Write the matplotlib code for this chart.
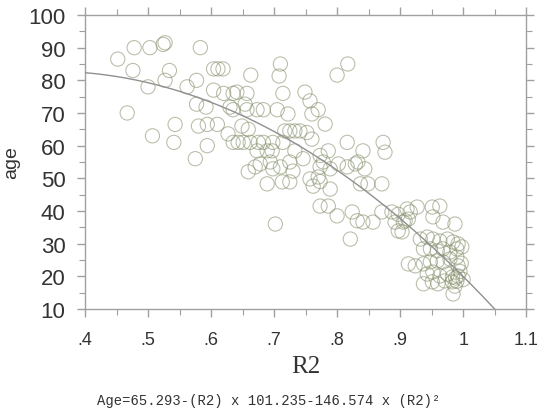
import numpy as np
import matplotlib
matplotlib.use("Agg")
import matplotlib.pyplot as plt
from matplotlib.ticker import MultipleLocator

# fit coefficients from the caption
c0 = 65.293
c1 = 101.235
c2 = -146.574

# R2 / age points
r2 = [0.452, 0.476, 0.467, 0.478, 0.503, 0.524, 0.527, 0.534, 0.527, 0.500,
      0.507, 0.543, 0.541, 0.562, 0.577, 0.583, 0.577, 0.592, 0.575, 0.580,
      0.594, 0.594, 0.610, 0.604, 0.611, 0.619, 0.604, 0.620, 0.635, 0.641,
      0.657, 0.663, 0.630, 0.635, 0.654, 0.657, 0.673, 0.683, 0.649, 0.659,
      0.627, 0.635, 0.643, 0.651, 0.662, 0.673, 0.683, 0.659, 0.670, 0.689,
      0.710, 0.708, 0.817, 0.800, 0.714, 0.749, 0.757, 0.770, 0.760, 0.705,
      0.722, 0.781, 0.717, 0.725, 0.733, 0.741, 0.752, 0.760, 0.698, 0.714,
      0.816, 0.873, 0.876, 0.841, 0.786, 0.773, 0.778, 0.773, 0.770, 0.773,
      0.789, 0.802, 0.816, 0.829, 0.833, 0.725, 0.710, 0.730, 0.698, 0.757,
      0.762, 0.789, 0.837, 0.849, 0.871, 0.844, 0.713, 0.725, 0.675, 0.689,
      0.697, 0.733, 0.678, 0.694, 0.746,
      0.702, 0.773, 0.786, 0.800, 0.824, 0.832, 0.841, 0.857, 0.821, 0.871,
      0.887, 0.892, 0.903, 0.916, 0.927, 0.951, 0.963, 0.952, 0.968, 0.987,
      0.897, 0.908, 0.897, 0.911, 0.913, 0.905,
      0.932, 0.943, 0.952, 0.963, 0.975, 0.984, 0.992,
      0.937, 0.948, 0.959, 0.968, 0.979, 0.990,
      0.913, 0.924, 0.937,
      0.948, 0.959, 0.968, 0.979, 0.990, 0.992,
      0.943, 0.952, 0.963, 0.975, 0.983, 0.992,
      0.937, 0.951, 0.960, 0.971, 0.983, 0.987,
      0.984, 0.990, 0.988, 0.995, 0.998, 0.997, 1.000]
age = [86.5, 83.0, 70.0, 90.0, 90.0, 91.0, 91.5, 83.0, 80.0, 78.0,
       63.0, 66.5, 61.0, 78.0, 80.0, 90.0, 72.7, 71.8, 56.0, 66.0,
       66.5, 60.0, 66.5, 83.5, 83.5, 83.5, 77.0, 76.0, 76.0, 76.4,
       76.0, 81.6, 71.8, 71.0, 72.7, 71.0, 71.0, 71.0, 66.0, 65.0,
       63.6, 61.0, 61.0, 61.0, 61.0, 58.4, 61.0, 52.0, 53.5, 48.3,
       85.0, 81.3, 85.0, 81.6, 76.0, 76.4, 73.7, 71.0, 69.7, 71.0,
       69.7, 66.6, 64.5, 64.5, 64.5, 64.5, 64.0, 62.0, 61.0, 61.0,
       61.0, 61.0, 58.0, 58.4, 58.4, 57.0, 55.0, 53.5, 50.4, 49.0,
       52.9, 54.4, 53.5, 54.4, 55.0, 55.0, 53.5, 52.2, 52.9, 49.8,
       47.6, 46.7, 48.3, 48.3, 48.3, 52.9, 48.9, 48.9, 61.0, 58.4,
       58.4, 58.4, 54.4, 55.0, 56.0,
       36.0, 41.5, 41.5, 38.5, 39.7, 37.0, 36.6, 36.6, 31.4, 39.7,
       39.7, 36.6, 33.6, 39.7, 41.2, 41.2, 41.5, 38.2, 36.6, 36.0,
       39.0, 37.0, 33.9, 40.6, 37.5, 36.6,
       31.4, 32.0, 31.4, 30.8, 31.4, 30.5, 29.9,
       28.4, 28.4, 27.8, 28.4, 27.4, 28.4,
       23.8, 23.2, 23.8,
       24.4, 24.7, 24.4, 25.3, 25.9, 23.2,
       20.7, 21.3, 20.1, 20.7, 19.8, 20.1,
       17.7, 18.3, 17.7, 18.6, 18.3, 17.0,
       14.6, 18.5, 19.5, 21.5, 29.0, 24.0, 19.0]

xticks = [0.4, 0.5, 0.6, 0.7, 0.8, 0.9, 1.0, 1.1]
xticklabels = [".4", ".5", ".6", ".7", ".8", ".9", "1", "1.1"]
yticks = [10, 20, 30, 40, 50, 60, 70, 80, 90, 100]

fig = plt.figure(figsize=(5.38, 4.10), dpi=100)
ax = fig.add_axes([0.158, 0.244, 0.820, 0.717])

ax.scatter(r2, age, s=105, facecolors="none", edgecolors="#86906c",
           linewidths=0.75, alpha=0.6, zorder=2)

# fitted curve, stops where it reaches the bottom of the axis
xr = np.roots([c2, c1, c0 - 10])
xend = max(xr.real)
xf = np.linspace(0.4, xend, 200)
ax.plot(xf, c0 + c1 * xf + c2 * xf ** 2, color="#909090", lw=1.0, zorder=3)

ax.set_xlim(0.4, 1.1)
ax.set_ylim(10, 100)
ax.set_xticks(xticks)
ax.set_xticklabels(xticklabels)
ax.set_yticks(yticks)
ax.xaxis.set_minor_locator(MultipleLocator(0.05))
ax.yaxis.set_minor_locator(MultipleLocator(5))

for s in ax.spines.values():
    s.set_color("#a0a0a0")
    s.set_linewidth(1.0)

ax.tick_params(which="both", direction="out", color="#a0a0a0",
               top=True, right=True, labeltop=False, labelright=False)
ax.tick_params(which="major", length=6, width=1)
ax.tick_params(which="minor", length=4, width=0.8)
ax.tick_params(axis="x", labelsize=13, labelcolor="#333333", pad=10)
ax.tick_params(axis="y", labelsize=16, labelcolor="#333333", pad=8)
for lab in ax.get_yticklabels() + ax.get_xticklabels():
    lab.set_family("Liberation Sans")

ax.set_xlabel("R2", family="Liberation Serif", fontsize=18, color="#333333",
              labelpad=5)
ax.set_ylabel("age", family="Liberation Sans", fontsize=14, color="#333333",
              labelpad=6)

fig.text(0.5, 0.022, "Age=65.293-(R2) x 101.235-146.574 x (R2)\u00b2",
         ha="center", va="center", family="Liberation Mono", fontsize=10,
         color="#333333")

fig.savefig("out.png", dpi=100, facecolor="white")
